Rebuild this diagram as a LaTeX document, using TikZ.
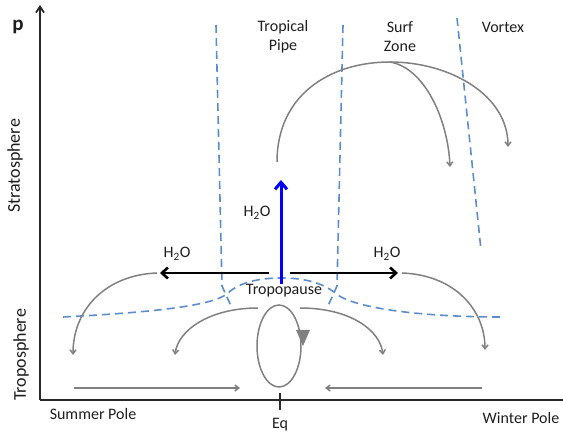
\documentclass[tikz,border=0pt]{standalone}
\usepackage{fontspec}
\setmainfont{Carlito}
\usetikzlibrary{arrows.meta}
\definecolor{dblue}{RGB}{91,141,204}
\definecolor{agray}{RGB}{128,128,128}
\definecolor{txt}{RGB}{30,30,30}
\begin{document}
\begin{tikzpicture}[x=1pt,y=-1pt,
  lbl/.style={text=txt,font=\fontsize{16}{19}\selectfont,inner sep=0pt,align=center},
  axisline/.style={line width=1.8pt,draw={rgb,255:red,40;green,40;blue,40}},
  bnd/.style={dblue,line width=1.6pt,dash pattern=on 8pt off 5pt},
  circ/.style={agray,line width=1.5pt,-{Straight Barb[length=4pt,width=6pt]}},
  flux/.style={black,line width=2.6pt,-{Straight Barb[length=6pt,width=11pt,line width=2.6pt]}},
  upflux/.style={blue,line width=3pt,-{Straight Barb[length=7pt,width=12pt,line width=3pt]}}]
\useasboundingbox (0,0) rectangle (563,435);
% axes
\coordinate (O) at (40,400);
\coordinate (Ptop) at (40,5);
\coordinate (Xend) at (563,400);
\draw[axisline,-{Straight Barb[length=6pt,width=8pt]}] (O) -- (Ptop);
\draw[axisline] (O) -- (Xend);
\coordinate (T1) at (280,393);
\coordinate (T2) at (280,410);
\draw[axisline] (T1) -- (T2);
% labels
\node[text=txt,font=\bfseries\fontsize{21}{24}\selectfont,inner sep=0pt] (p) at (18,27) {p};
\node[lbl,font=\fontsize{18}{21}\selectfont,rotate=90] (strat) at (15,166) {Stratosphere};
\node[lbl,font=\fontsize{18}{21}\selectfont,rotate=90] (trop) at (21,355) {Troposphere};
\node[lbl] (sp) at (93,414) {Summer Pole};
\node[lbl] (eq) at (280,425) {Eq};
\node[lbl] (wp) at (521,418) {Winter Pole};
\node[lbl] (tpipe) at (283,37) {Tropical\\Pipe};
\node[lbl] (surf) at (400,37) {Surf\\Zone};
\node[lbl] (vort) at (503,27) {Vortex};
\node[lbl] (hl) at (177,254) {H\textsubscript{2}O};
\node[lbl] (hr) at (387,254) {H\textsubscript{2}O};
\node[lbl] (hc) at (257,213) {H\textsubscript{2}O};
\node[lbl] (tp) at (284,291) {Tropopause};
% dashed boundaries
\draw[bnd] (216,25) -- (222,286) -- (231,306);
\draw[bnd] (343,25) -- (337,286) -- (328,306);
\draw[bnd] (457,18) -- (481,250);
\draw[bnd] (63,317) .. controls (160,312) and (215,305) .. (228,293)
  .. controls (240,282) and (260,278) .. (281,278)
  .. controls (305,278) and (322,283) .. (334,292)
  .. controls (350,308) and (420,317) .. (502,317);
% stratospheric circulation
\coordinate (sa) at (277,162);
\coordinate (stop) at (390,62);
\coordinate (se1) at (508,147);
\coordinate (se2) at (450,167);
\draw[circ] (sa) .. controls (277,95) and (330,62) .. (stop) .. controls (450,62) and (508,95) .. (se1);
\draw[circ] (stop) .. controls (425,68) and (448,120) .. (se2);
% tropospheric circulation
\draw[circ] (157,273) .. controls (105,275) and (73,310) .. (73,355);
\draw[circ] (258,308) .. controls (210,308) and (178,330) .. (175,355);
\draw[circ] (300,308) .. controls (350,308) and (380,330) .. (383,355);
\draw[circ] (402,273) .. controls (455,275) and (485,310) .. (485,350);
\coordinate (bl1) at (74,388);
\coordinate (bl2) at (240,388);
\coordinate (br1) at (482,388);
\coordinate (br2) at (325,388);
\draw[circ] (bl1) -- (bl2);
\draw[circ] (br1) -- (br2);
\draw[agray,line width=1.5pt] (279,346) ellipse [x radius=22, y radius=41];
\fill[agray] (296,330) -- (310,330) -- (303,346) -- cycle;
% water vapour fluxes
\coordinate (hlA) at (269,273);
\coordinate (hlB) at (160,273);
\coordinate (hrA) at (290,273);
\coordinate (hrB) at (398,273);
\coordinate (hcA) at (281,284);
\coordinate (hcB) at (281,180);
\draw[flux] (hlA) -- (hlB);
\draw[flux] (hrA) -- (hrB);
\draw[upflux] (hcA) -- (hcB);
\end{tikzpicture}
\end{document}
